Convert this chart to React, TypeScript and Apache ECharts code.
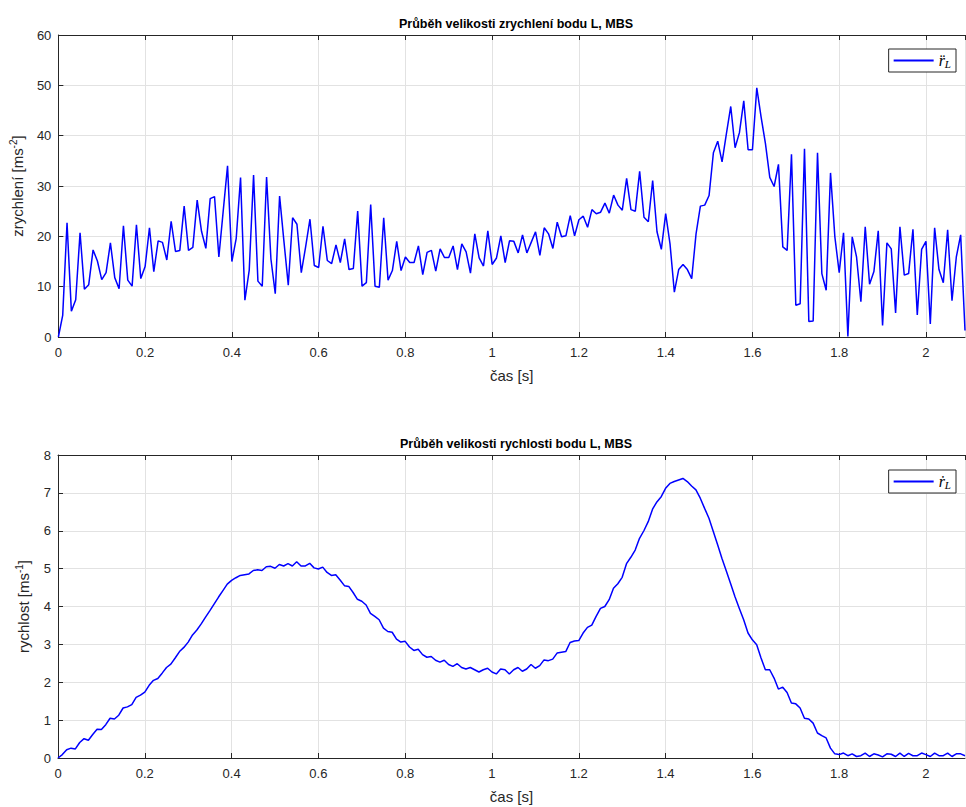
import React, { useEffect, useRef } from 'react';
import * as echarts from 'echarts';

// sampling step of the simulation [s]
const DT = 0.01;

// |r''_L| acceleration magnitude [m s^-2], samples 0 .. 2.09 s
const ACC: number[] = [
  0, 4.3, 22.7, 5.1, 7.4, 20.7, 9.5, 10.4, 17.3, 15.1,
  11.4, 12.8, 18.7, 11.8, 9.6, 22.1, 11.3, 10.1, 22.3, 11.6,
  14, 21.7, 13, 19.1, 18.8, 15.3, 23, 17, 17.2, 26,
  17.2, 17.8, 27.2, 21, 17.6, 27.5, 27.9, 15.9, 25, 34,
  15, 19.6, 31.7, 7.3, 13.3, 32.2, 11.1, 10.1, 31.8, 15.5,
  8.6, 28, 19, 10.3, 23.7, 22.4, 12.8, 17.9, 23.4, 14.2,
  13.8, 22, 15.2, 14.6, 18.3, 14.8, 19.5, 13.4, 13.6, 25,
  10.1, 10.8, 26.3, 10.1, 9.9, 23.7, 11.3, 13.2, 19, 13.2,
  15.9, 14.8, 14.8, 18.1, 12.4, 16.8, 17.2, 13.1, 17.5, 15.8,
  15.8, 18.1, 13.4, 18.5, 16.9, 12.7, 20.5, 15.7, 14.1, 21.1,
  14.4, 15.7, 20.1, 14.8, 19.1, 19, 16.7, 20.3, 16.7, 18.8,
  20.9, 16.2, 21.7, 20.5, 17.6, 22.8, 19.9, 20.1, 24.1, 20.1,
  23.3, 24, 21.8, 25.3, 24.5, 24.8, 26.6, 24.6, 28.2, 26.2,
  25.2, 31.5, 25.3, 25, 32.9, 23.8, 22.9, 31.1, 20.9, 17.4,
  24.5, 18.5, 8.9, 13.4, 14.4, 13.4, 11.6, 20.5, 26, 26.2,
  28.1, 36.6, 38.9, 34.8, 40.4, 45.8, 37.6, 40.6, 46.9, 37.2,
  37.2, 49.5, 43.7, 38.4, 31.7, 29.9, 34.3, 17.9, 17.2, 36.3,
  6.3, 6.6, 37.4, 3.1, 3.2, 36.6, 12.6, 9.3, 32.6, 19.9,
  12.8, 20.7, 0.1, 19.9, 15.9, 7, 21.9, 10.5, 13, 21.1,
  2.3, 18.7, 17.5, 4.8, 21.9, 12.3, 12.6, 21.4, 4.4, 17.4,
  19, 2.6, 21.7, 13.4, 10.8, 21.3, 7.2, 15.9, 20.3, 1.3,
];

// |r'_L| velocity magnitude [m s^-1], samples 0 .. 2.09 s
const VEL: number[] = [
  0, 0.09, 0.22, 0.26, 0.24, 0.41, 0.51, 0.47, 0.62, 0.76,
  0.75, 0.88, 1.05, 1.03, 1.13, 1.32, 1.35, 1.41, 1.6, 1.66,
  1.74, 1.92, 2.05, 2.1, 2.24, 2.39, 2.48, 2.64, 2.81, 2.92,
  3.06, 3.25, 3.38, 3.54, 3.72, 3.89, 4.07, 4.25, 4.42, 4.59,
  4.69, 4.76, 4.82, 4.84, 4.86, 4.95, 4.97, 4.95, 5.05, 5.06,
  5.01, 5.11, 5.07, 5.13, 5.07, 5.18, 5.07, 5.07, 5.14, 5.02,
  4.99, 5.04, 4.9, 4.82, 4.84, 4.7, 4.55, 4.53, 4.37, 4.19,
  4.14, 4.04, 3.82, 3.74, 3.65, 3.43, 3.34, 3.32, 3.14, 3.06,
  3.08, 2.93, 2.84, 2.87, 2.73, 2.66, 2.68, 2.58, 2.53, 2.58,
  2.47, 2.42, 2.49, 2.39, 2.35, 2.39, 2.33, 2.27, 2.33, 2.37,
  2.27, 2.22, 2.35, 2.33, 2.22, 2.33, 2.39, 2.29, 2.35, 2.47,
  2.37, 2.44, 2.59, 2.57, 2.61, 2.77, 2.79, 2.81, 3.05, 3.09,
  3.1, 3.3, 3.45, 3.51, 3.74, 3.95, 4, 4.18, 4.48, 4.6,
  4.77, 5.13, 5.3, 5.49, 5.8, 6, 6.24, 6.57, 6.76, 6.9,
  7.12, 7.25, 7.3, 7.34, 7.38, 7.3, 7.18, 7.08, 6.86, 6.59,
  6.33, 5.98, 5.63, 5.27, 4.94, 4.6, 4.26, 3.95, 3.65, 3.3,
  3.12, 2.99, 2.64, 2.33, 2.33, 2.11, 1.82, 1.87, 1.73, 1.45,
  1.43, 1.32, 1.05, 1.03, 0.92, 0.66, 0.59, 0.53, 0.26, 0.11,
  0.09, 0.13, 0.06, 0.11, 0.04, 0.06, 0.13, 0.04, 0.11, 0.08,
  0.03, 0.11, 0.1, 0.04, 0.13, 0.04, 0.12, 0.06, 0.06, 0.13,
  0.09, 0.04, 0.13, 0.06, 0.06, 0.13, 0.04, 0.11, 0.11, 0.06,
];

const TITLES = [
  'Průběh velikosti zrychlení bodu L, MBS',
  'Průběh velikosti rychlosti bodu L, MBS',
];
const X_NAME = 'čas [s]';
const Y_NAMES = ['zrychlení [ms{sup|-2}]', 'rychlost [ms{sup|-1}]'];
const SERIES_NAMES = ['acc', 'vel'];
const LEGEND_TEXT = ['{r|r\u0308}{s|L}', '{r|\u1E59}{s|L}'];
const Y_RANGES = [
  { min: 0, max: 60, interval: 10 },
  { min: 0, max: 8, interval: 1 },
];
const X_RANGE = { min: 0, max: 2.09, interval: 0.2 };

const FONT = "'Liberation Sans', Arial, Helvetica, sans-serif";
const SERIF = "'Liberation Serif', 'DejaVu Serif', serif";
const AX = '#262626';
const GRIDC = '#e2e2e2';
const BLUE = '#0000ff';

export default function App() {
  const ref = useRef<HTMLDivElement>(null);

  useEffect(() => {
    if (!ref.current) return;
    const chart = echarts.init(ref.current, undefined, { renderer: 'svg' });

    const grids = [
      { left: 58, right: 1, top: 35, height: 302 },
      { left: 58, right: 1, top: 455, height: 303 },
    ];

    const xAxes: any[] = [];
    const yAxes: any[] = [];
    grids.forEach((_, g) => {
      xAxes.push({
        gridIndex: g,
        type: 'value',
        ...X_RANGE,
        name: X_NAME,
        nameLocation: 'middle',
        nameGap: 31,
        nameTextStyle: { fontFamily: FONT, fontSize: 15, color: AX },
        axisLine: { show: true, lineStyle: { color: AX, width: 1 } },
        axisTick: { show: true, inside: true, length: 5, lineStyle: { color: AX } },
        axisLabel: {
          fontFamily: FONT,
          fontSize: 13,
          color: AX,
          margin: 9,
          showMaxLabel: false,
          formatter: (v: number) => String(+v.toFixed(1)),
        },
        splitLine: { show: true, lineStyle: { color: GRIDC, width: 1 } },
      });
      xAxes.push({
        gridIndex: g,
        type: 'value',
        position: 'top',
        ...X_RANGE,
        axisLine: { show: true, lineStyle: { color: AX, width: 1 } },
        axisTick: { show: true, inside: true, length: 5, lineStyle: { color: AX } },
        axisLabel: { show: false },
        splitLine: { show: false },
      });
      yAxes.push({
        gridIndex: g,
        type: 'value',
        ...Y_RANGES[g],
        name: Y_NAMES[g],
        nameLocation: 'middle',
        nameGap: 25,
        nameRotate: 90,
        nameTextStyle: {
          fontFamily: FONT,
          fontSize: 15,
          color: AX,
          lineHeight: 18,
          rich: {
            sup: { fontFamily: FONT, fontSize: 10, color: AX, verticalAlign: 'top', lineHeight: 18 },
          },
        },
        axisLine: { show: true, lineStyle: { color: AX, width: 1 } },
        axisTick: { show: true, inside: true, length: 5, lineStyle: { color: AX } },
        axisLabel: { fontFamily: FONT, fontSize: 13, color: AX, margin: 7 },
        splitLine: { show: true, lineStyle: { color: GRIDC, width: 1 } },
      });
    });

    const seriesData = [ACC, VEL];

    const option: any = {
      animation: false,
      backgroundColor: '#ffffff',
      title: TITLES.map((t, g) => ({
        text: t,
        left: 511,
        textAlign: 'center',
        top: g === 0 ? 12 : 432,
        textStyle: { fontFamily: FONT, fontSize: 12.5, fontWeight: 'bold', color: '#000' },
      })),
      grid: grids,
      xAxis: xAxes,
      yAxis: yAxes,
      legend: SERIES_NAMES.map((n, g) => ({
        data: [{ name: n, icon: 'rect' }],
        right: 10,
        top: g === 0 ? 49 : 470,
        orient: 'vertical',
        backgroundColor: '#ffffff',
        borderColor: AX,
        borderWidth: 1,
        borderRadius: 0,
        padding: [3, 5, 3, 5],
        itemWidth: 40,
        itemHeight: 2,
        itemGap: 0,
        formatter: () => LEGEND_TEXT[g],
        textStyle: {
          rich: {
            r: { fontFamily: SERIF, fontStyle: 'italic', fontSize: 16, color: '#000', lineHeight: 18 },
            s: { fontFamily: SERIF, fontStyle: 'italic', fontSize: 11, color: '#000', padding: [6, 0, 0, 0], lineHeight: 18 },
          },
        },
      })),
      series: seriesData.map((arr, g) => ({
        name: SERIES_NAMES[g],
        type: 'line',
        xAxisIndex: g * 2,
        yAxisIndex: g,
        data: arr.map((v, i) => [i * DT, v]),
        symbol: 'none',
        showSymbol: false,
        clip: true,
        lineStyle: { color: BLUE, width: 1.5 },
        itemStyle: { color: BLUE },
      })),
    };

    chart.setOption(option);
    return () => chart.dispose();
  }, []);

  return (
    <div
      ref={ref}
      style={{ position: 'fixed', left: 0, top: 0, width: 966, height: 807, background: '#fff' }}
    />
  );
}
